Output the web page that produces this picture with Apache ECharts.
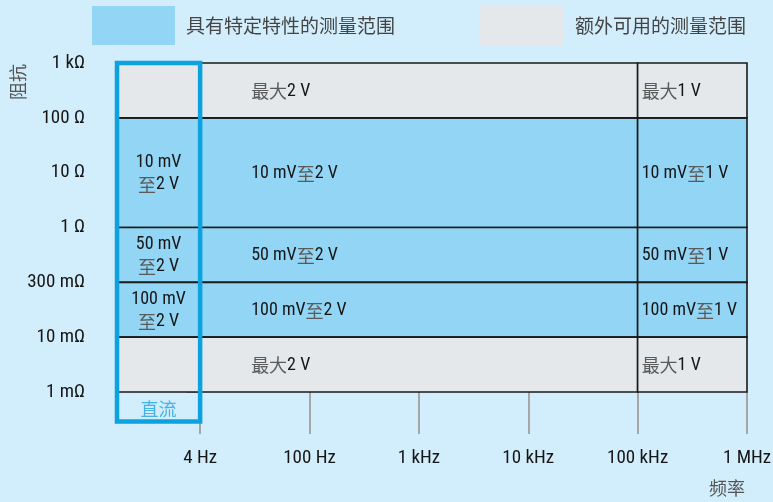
<!DOCTYPE html>
<html><head><meta charset="utf-8">
<script src="https://cdn.jsdelivr.net/npm/echarts@6/dist/echarts.min.js"></script>
<style>html,body{margin:0;padding:0;background:#d2edfb}#c{width:773px;height:502px}</style>
</head><body><div id="c"></div>
<script>
// Impedance tick labels (bottom to top), frequency tick labels (left to right)
const yLabels = ['1 mΩ', '10 mΩ', '300 mΩ', '1 Ω', '10 Ω', '100 Ω', '1 kΩ'];
const xLabels = ['4 Hz', '100 Hz', '1 kHz', '10 kHz', '100 kHz', '1 MHz'];
const yTickValues = [0, 1, 2, 3, 4, 5, 6];
const xTickValues = [0, 1, 2, 3, 4, 5];

// Ranges with specified characteristics: [xFrom, xTo, yFrom, yTo, text]
const specCells = [
  [-0.76, 0, 3, 5, '10 mV\n至2 V'],
  [-0.76, 0, 2, 3, '50 mV\n至2 V'],
  [-0.76, 0, 1, 2, '100 mV\n至2 V'],
  [0, 4, 3, 5, '10 mV至2 V'],
  [0, 4, 2, 3, '50 mV至2 V'],
  [0, 4, 1, 2, '100 mV至2 V'],
  [4, 5, 3, 5, '10 mV至1 V'],
  [4, 5, 2, 3, '50 mV至1 V'],
  [4, 5, 1, 2, '100 mV至1 V']
];
// Additional usable ranges
const extraCells = [
  [-0.76, 0, 5, 6, ''],
  [-0.76, 0, 0, 1, ''],
  [0, 4, 5, 6, '最大2 V'],
  [0, 4, 0, 1, '最大2 V'],
  [4, 5, 5, 6, '最大1 V'],
  [4, 5, 0, 1, '最大1 V']
];
// DC column frame
const dcBox = [[-0.76, 0, -0.54, 6, '直流']];

const BLUE = '#92d5f5';
const GRAY = '#e4e8ea';
const FRAME = '#0ca1df';
const LAT = "'Roboto Condensed','DejaVu Sans Condensed',sans-serif";
const CJK = "'Noto Sans CJK SC',sans-serif";

const rich = {
  a: { fontFamily: LAT, fontSize: 18, fill: '#161616', color: '#161616', lineHeight: 22 },
  c: { fontFamily: CJK, fontSize: 18, fill: '#5a5a5a', color: '#5a5a5a', lineHeight: 22 }
};
function toRich(s) {
  return s.split('\n').map(line =>
    line.split(/([\u4e00-\u9fff]+)/).filter(p => p.length)
      .map(p => /[\u4e00-\u9fff]/.test(p) ? '{c|' + p + '}' : '{a|' + p + '}').join('')
  ).join('\n');
}

function cellRenderer(arr, fillColor) {
  return function (params, api) {
    const d = arr[params.dataIndex];
    const p0 = api.coord([d[0], d[3]]);
    const p1 = api.coord([d[1], d[2]]);
    const children = [{
      type: 'rect',
      shape: { x: p0[0], y: p0[1], width: p1[0] - p0[0], height: p1[1] - p0[1] },
      style: { fill: fillColor, stroke: '#1a1a1a', lineWidth: 1.6 }
    }];
    if (d[4]) {
      const isDC = d[0] < 0;
      const tx = isDC ? (p0[0] + p1[0]) / 2 : p0[0] + (d[0] === 0 ? 51 : 4);
      children.push({
        type: 'text', x: tx, y: (p0[1] + p1[1]) / 2 + 1,
        style: { text: toRich(d[4]), rich: rich, align: isDC ? 'center' : 'left', verticalAlign: 'middle' }
      });
    }
    return { type: 'group', children: children };
  };
}

const chart = echarts.init(document.getElementById('c'), null, { renderer: 'canvas' });
chart.setOption({
  backgroundColor: '#d2edfb',
  animation: false,
  grid: { left: 117, right: 26, top: 63, bottom: 102, outerBoundsMode: 'none', containLabel: false },
  legend: [
    { data: [{ name: '具有特定特性的测量范围', itemStyle: { color: BLUE } }], left: 92, top: 6, padding: 0, itemWidth: 83, itemHeight: 39,
      icon: 'rect', selectedMode: false, textStyle: { fontFamily: CJK, fontSize: 19, color: '#444', padding: [0, 0, 0, 6] } },
    { data: [{ name: '额外可用的测量范围', itemStyle: { color: GRAY } }], left: 480, top: 6, padding: 0, itemWidth: 83, itemHeight: 39,
      icon: 'rect', selectedMode: false, textStyle: { fontFamily: CJK, fontSize: 19, color: '#444', padding: [0, 0, 0, 7] } }
  ],
  xAxis: {
    type: 'value', min: -0.76, max: 5, position: 'bottom',
    axisLine: { show: false }, splitLine: { show: false },
    axisTick: { show: true, customValues: xTickValues, length: 42, lineStyle: { color: '#a6a6a6', width: 2 } },
    axisLabel: { show: true, customValues: xTickValues, margin: 49, fontFamily: LAT, fontSize: 19, color: '#161616',
      formatter: v => xLabels[Math.round(v)] }
  },
  yAxis: {
    type: 'value', min: -0.146, max: 6, offset: 7,
    axisLine: { show: false }, splitLine: { show: false },
    axisTick: { show: true, customValues: yTickValues, length: 14, lineStyle: { color: '#a0a0a0', width: 2 } },
    axisLabel: { show: true, customValues: yTickValues, margin: 25, fontFamily: LAT, fontSize: 19, color: '#161616',
      formatter: v => yLabels[Math.round(v)] }
  },
  graphic: [
    { type: 'text', x: 18, y: 82, rotation: Math.PI / 2,
      style: { text: '阻抗', fontFamily: CJK, fontSize: 18, fill: '#555', align: 'center', verticalAlign: 'middle' } },
    { type: 'text', x: 727, y: 488,
      style: { text: '频率', fontFamily: CJK, fontSize: 18, fill: '#555', align: 'center', verticalAlign: 'middle' } }
  ],
  series: [
    { name: '具有特定特性的测量范围', type: 'custom', itemStyle: { color: BLUE },
      data: specCells.map(d => d.slice(0, 4)), renderItem: cellRenderer(specCells, BLUE), clip: false },
    { name: '额外可用的测量范围', type: 'custom', itemStyle: { color: GRAY },
      data: extraCells.map(d => d.slice(0, 4)), renderItem: cellRenderer(extraCells, GRAY), clip: false },
    { name: 'dc', type: 'custom', clip: false, z: 5,
      data: dcBox.map(d => d.slice(0, 4)),
      renderItem: function (params, api) {
        const d = dcBox[params.dataIndex];
        const p0 = api.coord([d[0], d[3]]);
        const p1 = api.coord([d[1], d[2]]);
        const base = api.coord([d[0], 0]);
        return { type: 'group', children: [
          { type: 'rect', shape: { x: p0[0], y: p0[1], width: p1[0] - p0[0], height: p1[1] - p0[1] },
            style: { fill: 'none', stroke: FRAME, lineWidth: 4.5 } },
          { type: 'text', x: (p0[0] + p1[0]) / 2, y: (base[1] + p1[1]) / 2 + 2,
            style: { text: d[4], fontFamily: CJK, fontSize: 18, fill: '#45b2e6', align: 'center', verticalAlign: 'middle' } }
        ] };
      } }
  ]
});
</script></body></html>
